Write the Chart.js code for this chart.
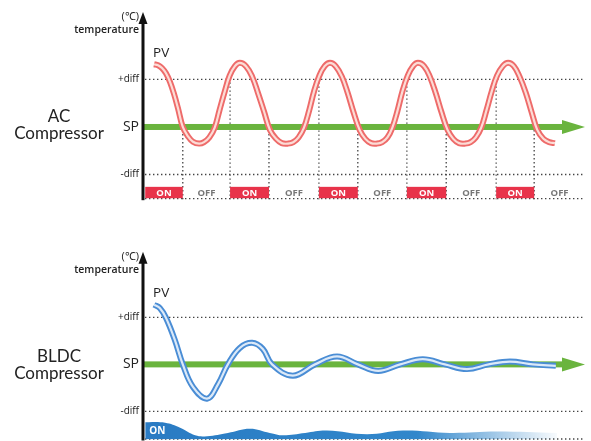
<!DOCTYPE html>
<html>
<head>
<meta charset="utf-8">
<script src="https://cdn.jsdelivr.net/npm/chart.js@4.4.1/dist/chart.umd.min.js"></script>
<style>
  html, body { margin: 0; padding: 0; background: #fff; }
  #wrap { position: relative; width: 591px; height: 441px; overflow: hidden; font-family: "Open Sans", sans-serif; }
  canvas { position: absolute; left: 0; }
  .titulo { position: absolute; left: 0; width: 118px; text-align: center; font-family: Lato, sans-serif; font-size: 17px; line-height: 17px; color: #222; }
</style>
</head>
<body>
<div id="wrap">
  <canvas id="chartAC" width="591" height="225" style="top:0"></canvas>
  <canvas id="chartBLDC" width="591" height="216" style="top:225px"></canvas>
  <div class="titulo" style="top:107px">AC<br>Compressor</div>
  <div class="titulo" style="top:347px">BLDC<br>Compressor</div>
</div>
<script>
// eje Y: SP = 0, diferencial = ±1
const yTicks = [-1, 0, 1];
const yTickLabels = ["-diff", "SP", "+diff"];

// AC: temperatura (PV) en el tiempo (0..100)
const acTime = [
  2.5, 3.4, 4.3, 5.2, 6.1, 7.0, 7.9, 9.0, 10.2, 11.3, 12.7,
  13.8, 15.0, 16.2, 17.3, 18.5, 19.6, 20.8, 21.9,
  23.3, 24.7, 26.0, 27.4, 28.7, 30.1, 31.4, 32.8,
  34.0, 35.2, 36.4, 37.6, 38.7, 39.9, 41.1, 42.3,
  43.6, 45.0, 46.3, 47.6, 49.0, 50.3, 51.6, 52.9,
  54.1, 55.3, 56.4, 57.6, 58.7, 59.9, 61.1, 62.2,
  63.6, 64.9, 66.2, 67.5, 68.9, 70.2, 71.5, 72.9,
  74.1, 75.3, 76.5, 77.7, 78.9, 80.1, 81.4, 82.6,
  83.9, 85.2, 86.6, 87.9, 89.2, 90.6, 91.9, 93.2
];
const acPV = [
  1.32, 1.30, 1.24, 1.13, 0.95, 0.70, 0.40, 0.0, -0.20, -0.31, -0.35,
  -0.32, -0.22, -0.02, 0.35, 0.75, 1.08, 1.28, 1.35,
  1.28, 1.06, 0.72, 0.32, -0.06, -0.25, -0.34, -0.35,
  -0.32, -0.22, -0.02, 0.35, 0.75, 1.08, 1.28, 1.35,
  1.28, 1.06, 0.72, 0.32, -0.06, -0.25, -0.34, -0.35,
  -0.32, -0.22, -0.02, 0.35, 0.75, 1.08, 1.28, 1.35,
  1.28, 1.06, 0.72, 0.32, -0.06, -0.25, -0.34, -0.35,
  -0.32, -0.22, -0.02, 0.35, 0.75, 1.08, 1.28, 1.35,
  1.28, 1.06, 0.72, 0.32, -0.06, -0.25, -0.32, -0.34
];

// AC: cambios de estado del compresor
const acSwitch = [0.5, 9.0, 19.7, 28.5, 39.8, 48.6, 59.7, 68.6, 79.9, 88.5, 100];
const acState = ["ON", "OFF", "ON", "OFF", "ON", "OFF", "ON", "OFF", "ON", "OFF"];

// BLDC: temperatura (PV)
const bldcTime = [2.5, 3.8, 5.2, 7.2, 9.0, 11.3, 14.5, 17.0, 19.2, 21.9, 24.7, 27.1, 29.2,
  33.9, 38.9, 43.9, 48.6, 53.2, 58.2, 63.3, 68.3, 73.3, 78.2, 83.0, 88.2, 93.4];
const bldcPV = [1.27, 1.20, 0.99, 0.52, 0.0, -0.48, -0.73, -0.42, 0.0, 0.35, 0.46, 0.33, 0.0,
  -0.24, 0.0, 0.17, 0.0, -0.14, 0.0, 0.11, 0.0, -0.10, 0.0, 0.06, 0.0, -0.03];

// BLDC: potencia del compresor (banda ON)
const bldcLoadTime = [0.5, 5.0, 8.4, 11.8, 14.5, 19.2, 24.2, 28.7, 31.7, 36.7, 41.6, 50.7,
  58.8, 69.5, 80.1, 93.7];
const bldcLoad = [-1.23, -1.245, -1.35, -1.51, -1.53, -1.46, -1.37, -1.46, -1.51, -1.46, -1.41, -1.49,
  -1.41, -1.46, -1.43, -1.46];

const FAMILIA = '"Open Sans", sans-serif';
const filaOnOff = -1.26;

function puntos(xs, ys) {
  return xs.map((x, i) => ({ x, y: ys[i] }));
}

function punteada(ctx, x1, y1, x2, y2) {
  ctx.save();
  ctx.strokeStyle = "#444";
  ctx.lineWidth = 1.3;
  ctx.setLineDash([1.4, 2.6]);
  ctx.beginPath();
  ctx.moveTo(x1, y1);
  ctx.lineTo(x2, y2);
  ctx.stroke();
  ctx.restore();
}

function lineasBase(ctx, a, y) {
  punteada(ctx, a.left + 2, y.getPixelForValue(1), a.right, y.getPixelForValue(1));
  punteada(ctx, a.left + 2, y.getPixelForValue(-1), a.right, y.getPixelForValue(-1));
  punteada(ctx, a.left + 2, a.bottom - 0.5, a.right, a.bottom - 0.5);
}

function flechaSP(ctx, a, y) {
  const py = y.getPixelForValue(0);
  ctx.save();
  ctx.fillStyle = "#6ab43e";
  ctx.fillRect(a.left, py - 3, a.right - a.left - 20, 6);
  ctx.beginPath();
  ctx.moveTo(a.right, py);
  ctx.lineTo(a.right - 23, py - 7);
  ctx.lineTo(a.right - 23, py + 7);
  ctx.closePath();
  ctx.fill();
  ctx.restore();
}

function ejeY(ctx, a) {
  ctx.save();
  ctx.fillStyle = "#111";
  ctx.fillRect(a.left - 1.5, a.top + 8, 3, a.bottom - a.top - 7);
  ctx.beginPath();
  ctx.moveTo(a.left, a.top);
  ctx.lineTo(a.left - 4.5, a.top + 12);
  ctx.lineTo(a.left + 4.5, a.top + 12);
  ctx.closePath();
  ctx.fill();
  ctx.restore();
}

function textos(ctx, a, x, y, xs, ys) {
  ctx.save();
  ctx.fillStyle = "#222";
  ctx.textAlign = "right";
  ctx.textBaseline = "middle";
  ctx.font = `11px ${FAMILIA}`;
  ctx.fillText("(℃)", a.left - 4, a.top + 5);
  ctx.font = `600 10.5px ${FAMILIA}`;
  ctx.fillText("temperature", a.left - 4, a.top + 18.5);
  ctx.textAlign = "left";
  ctx.textBaseline = "alphabetic";
  ctx.font = `13.5px ${FAMILIA}`;
  ctx.fillText("PV", x.getPixelForValue(xs[0]) - 1, y.getPixelForValue(ys[0]) - 7.5);
  ctx.restore();
}

const pluginAC = {
  id: "dibujoAC",
  beforeDatasetsDraw(chart) {
    const { ctx, chartArea: a, scales: { x, y } } = chart;
    lineasBase(ctx, a, y);
    for (let i = 1; i < acSwitch.length - 1; i++) {
      const px = x.getPixelForValue(acSwitch[i]);
      const desde = acState[i] === "ON" ? 1 : 0;
      punteada(ctx, px, y.getPixelForValue(desde) + 3, px, a.bottom);
    }
    const top = y.getPixelForValue(filaOnOff);
    ctx.save();
    ctx.textAlign = "center";
    ctx.textBaseline = "middle";
    ctx.font = `bold 9.5px ${FAMILIA}`;
    acState.forEach((estado, i) => {
      const x1 = x.getPixelForValue(acSwitch[i]);
      const x2 = x.getPixelForValue(acSwitch[i + 1]);
      const cy = (top + a.bottom) / 2;
      if (estado === "ON") {
        ctx.fillStyle = "#e8334a";
        ctx.fillRect(x1, top, x2 - x1, a.bottom - top - 1);
        ctx.fillStyle = "#fff";
      } else {
        ctx.fillStyle = "#777";
      }
      ctx.fillText(estado, (x1 + x2) / 2, cy);
    });
    ctx.restore();
    flechaSP(ctx, a, y);
  },
  afterDatasetsDraw(chart) {
    const { ctx, chartArea: a, scales: { x, y } } = chart;
    ejeY(ctx, a);
    textos(ctx, a, x, y, acTime, acPV);
  }
};

const pluginBLDC = {
  id: "dibujoBLDC",
  beforeDatasetsDraw(chart) {
    const { ctx, chartArea: a, scales: { y } } = chart;
    lineasBase(ctx, a, y);
    flechaSP(ctx, a, y);
  },
  afterDatasetsDraw(chart) {
    const { ctx, chartArea: a, scales: { x, y } } = chart;
    ejeY(ctx, a);
    textos(ctx, a, x, y, bldcTime, bldcPV);
    ctx.save();
    ctx.fillStyle = "#fff";
    ctx.font = `bold 10px ${FAMILIA}`;
    ctx.textBaseline = "middle";
    ctx.fillText("ON", x.getPixelForValue(bldcLoadTime[0]) + 4, (y.getPixelForValue(bldcLoad[0]) + a.bottom) / 2);
    ctx.restore();
  }
};

function curva(data, exterior, interior) {
  return [
    { data, borderColor: interior, borderWidth: 2.2, tension: 0.4, order: 0 },
    { data, borderColor: exterior, borderWidth: 6, tension: 0.4, order: 1 }
  ];
}

function degradado(ctx) {
  const chart = ctx.chart;
  const x = chart.scales.x;
  if (!chart.chartArea || !x) return "#2e80c6";
  const g = chart.ctx.createLinearGradient(x.getPixelForValue(bldcLoadTime[0]), 0,
    x.getPixelForValue(bldcLoadTime[bldcLoadTime.length - 1]), 0);
  g.addColorStop(0, "#2a7bc3");
  g.addColorStop(0.66, "#3187cb");
  g.addColorStop(1, "rgba(60,140,205,0.04)");
  return g;
}

function crearGrafico(id, datasets, yMin, yMax, padding, plugin) {
  return new Chart(document.getElementById(id), {
    type: "line",
    data: { datasets },
    options: {
      responsive: false,
      animation: false,
      devicePixelRatio: 1,
      layout: { padding },
      plugins: { legend: { display: false }, tooltip: { enabled: false } },
      elements: { point: { radius: 0 } },
      scales: {
        x: { type: "linear", min: 0, max: 100, display: false },
        y: {
          min: yMin,
          max: yMax,
          grid: { display: false, drawTicks: false },
          border: { display: false },
          afterBuildTicks: (axis) => { axis.ticks = yTicks.map((v) => ({ value: v })); },
          afterFit: (axis) => {
            axis.width = 143;
            axis.paddingTop = 0;
            axis.paddingBottom = 0;
          },
          ticks: {
            padding: 4,
            color: "#222",
            font: (c) => c.tick && c.tick.value === 0
              ? { family: FAMILIA, size: 14, weight: "500" }
              : { family: FAMILIA, size: 10 },
            callback: (v) => yTickLabels[yTicks.indexOf(v)]
          }
        }
      }
    },
    plugins: [plugin]
  });
}

crearGrafico("chartAC", curva(puntos(acTime, acPV), "#ee6b6a", "#fcdcd6"),
  -1.52, 2.42, { left: 0, right: 6, top: 12, bottom: 25.8 }, pluginAC);

crearGrafico("chartBLDC", [
  ...curva(puntos(bldcTime, bldcPV), "#4a8dd5", "#dbe9f8"),
  {
    data: puntos(bldcLoadTime, bldcLoad),
    borderWidth: 0,
    fill: "start",
    backgroundColor: degradado,
    tension: 0.4,
    order: 2
  }
], -1.6, 2.4, { left: 0, right: 6, top: 26.7, bottom: 1.5 }, pluginBLDC);
</script>
</body>
</html>
